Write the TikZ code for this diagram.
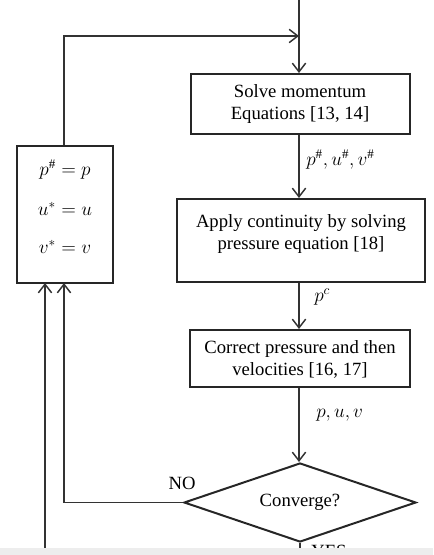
\documentclass[tikz,border=0pt]{standalone}
\usepackage{fontspec}
\setmainfont{Liberation Serif}
\usetikzlibrary{arrows.meta,shapes.geometric}
\begin{document}
\begin{tikzpicture}[x=0.75pt,y=-0.75pt,
  font=\fontsize{14}{16.5}\selectfont,
  box/.style={draw=black!85, line width=1.5pt, inner sep=0pt},
  txt/.style={align=center, inner sep=0pt},
  lbl/.style={inner sep=0pt},
  conn/.style={draw=black!80, line width=1.1pt},
  arr/.style={conn, -{Straight Barb[length=6.5pt,width=10pt,line width=1.1pt]}}]
\useasboundingbox (0,0) rectangle (433,555);

% process boxes
\node[box, minimum width=219*0.75pt, minimum height=60*0.75pt] (b1) at (300,104) {};
\node[txt] (t1) at (300,104) {Solve momentum\\Equations [13, 14]};

\node[box, minimum width=248*0.75pt, minimum height=83*0.75pt] (b2) at (301,240.5) {};
\node[txt] (t2) at (301,234) {Apply continuity by solving\\pressure equation [18]};

\node[box, minimum width=220*0.75pt, minimum height=57*0.75pt] (b3) at (300,358.5) {};
\node[txt] (t3) at (300,359.5) {Correct pressure and then\\velocities [16, 17]};

\node[box, shape=diamond, aspect=2.9, minimum width=232*0.75pt, minimum height=79*0.75pt] (d) at (300,502.5) {};
\node[txt] (td) at (300,502) {Converge?};

% update box
\node[box, minimum width=96*0.75pt, minimum height=137*0.75pt] (lb) at (65,214.5) {};
\node[lbl] (e1) at (65,170) {$p^{\#}=p$};
\node[lbl] (e2) at (65,209) {$u^{*}=u$};
\node[lbl] (e3) at (65,247) {$v^{*}=v$};

% free ends
\coordinate (in) at (299,0);
\coordinate (j) at (299,36);
\coordinate (lt) at (64,36);
\coordinate (a1) at (45,555);
\coordinate (a2) at (45,283);
\coordinate (a3) at (64,283);
\coordinate (out) at (300,555);

% connectors
\draw[arr] (in) -- (b1.north -| in);
\draw[arr] (lb.north -| lt) -- (lt) -- (j);
\draw[arr] (b1.south -| in) -- (b2.north -| in);
\draw[arr] (b2.south -| in) -- (b3.north -| in);
\draw[arr] (b3.south -| in) -- (d.north -| in);
\draw[arr] (d.west) -- (d.west -| a3) -- (a3);
\draw[arr] (a1) -- (a2);
\draw[conn] (d.south) -- (out);

% labels
\node[lbl, anchor=west] (l1) at (306,160) {$p^{\#},u^{\#},v^{\#}$};
\node[lbl, anchor=west] (l2) at (314,297) {$p^{c}$};
\node[lbl, anchor=west] (l3) at (316,415) {$p,u,v$};
\node[lbl] (no) at (182,483) {NO};
\node[lbl, anchor=base west] (yes) at (311,557) {YES};

% shaded strip along the bottom edge
\fill[black!7] (0,548) rectangle (433,555);
\end{tikzpicture}
\end{document}
